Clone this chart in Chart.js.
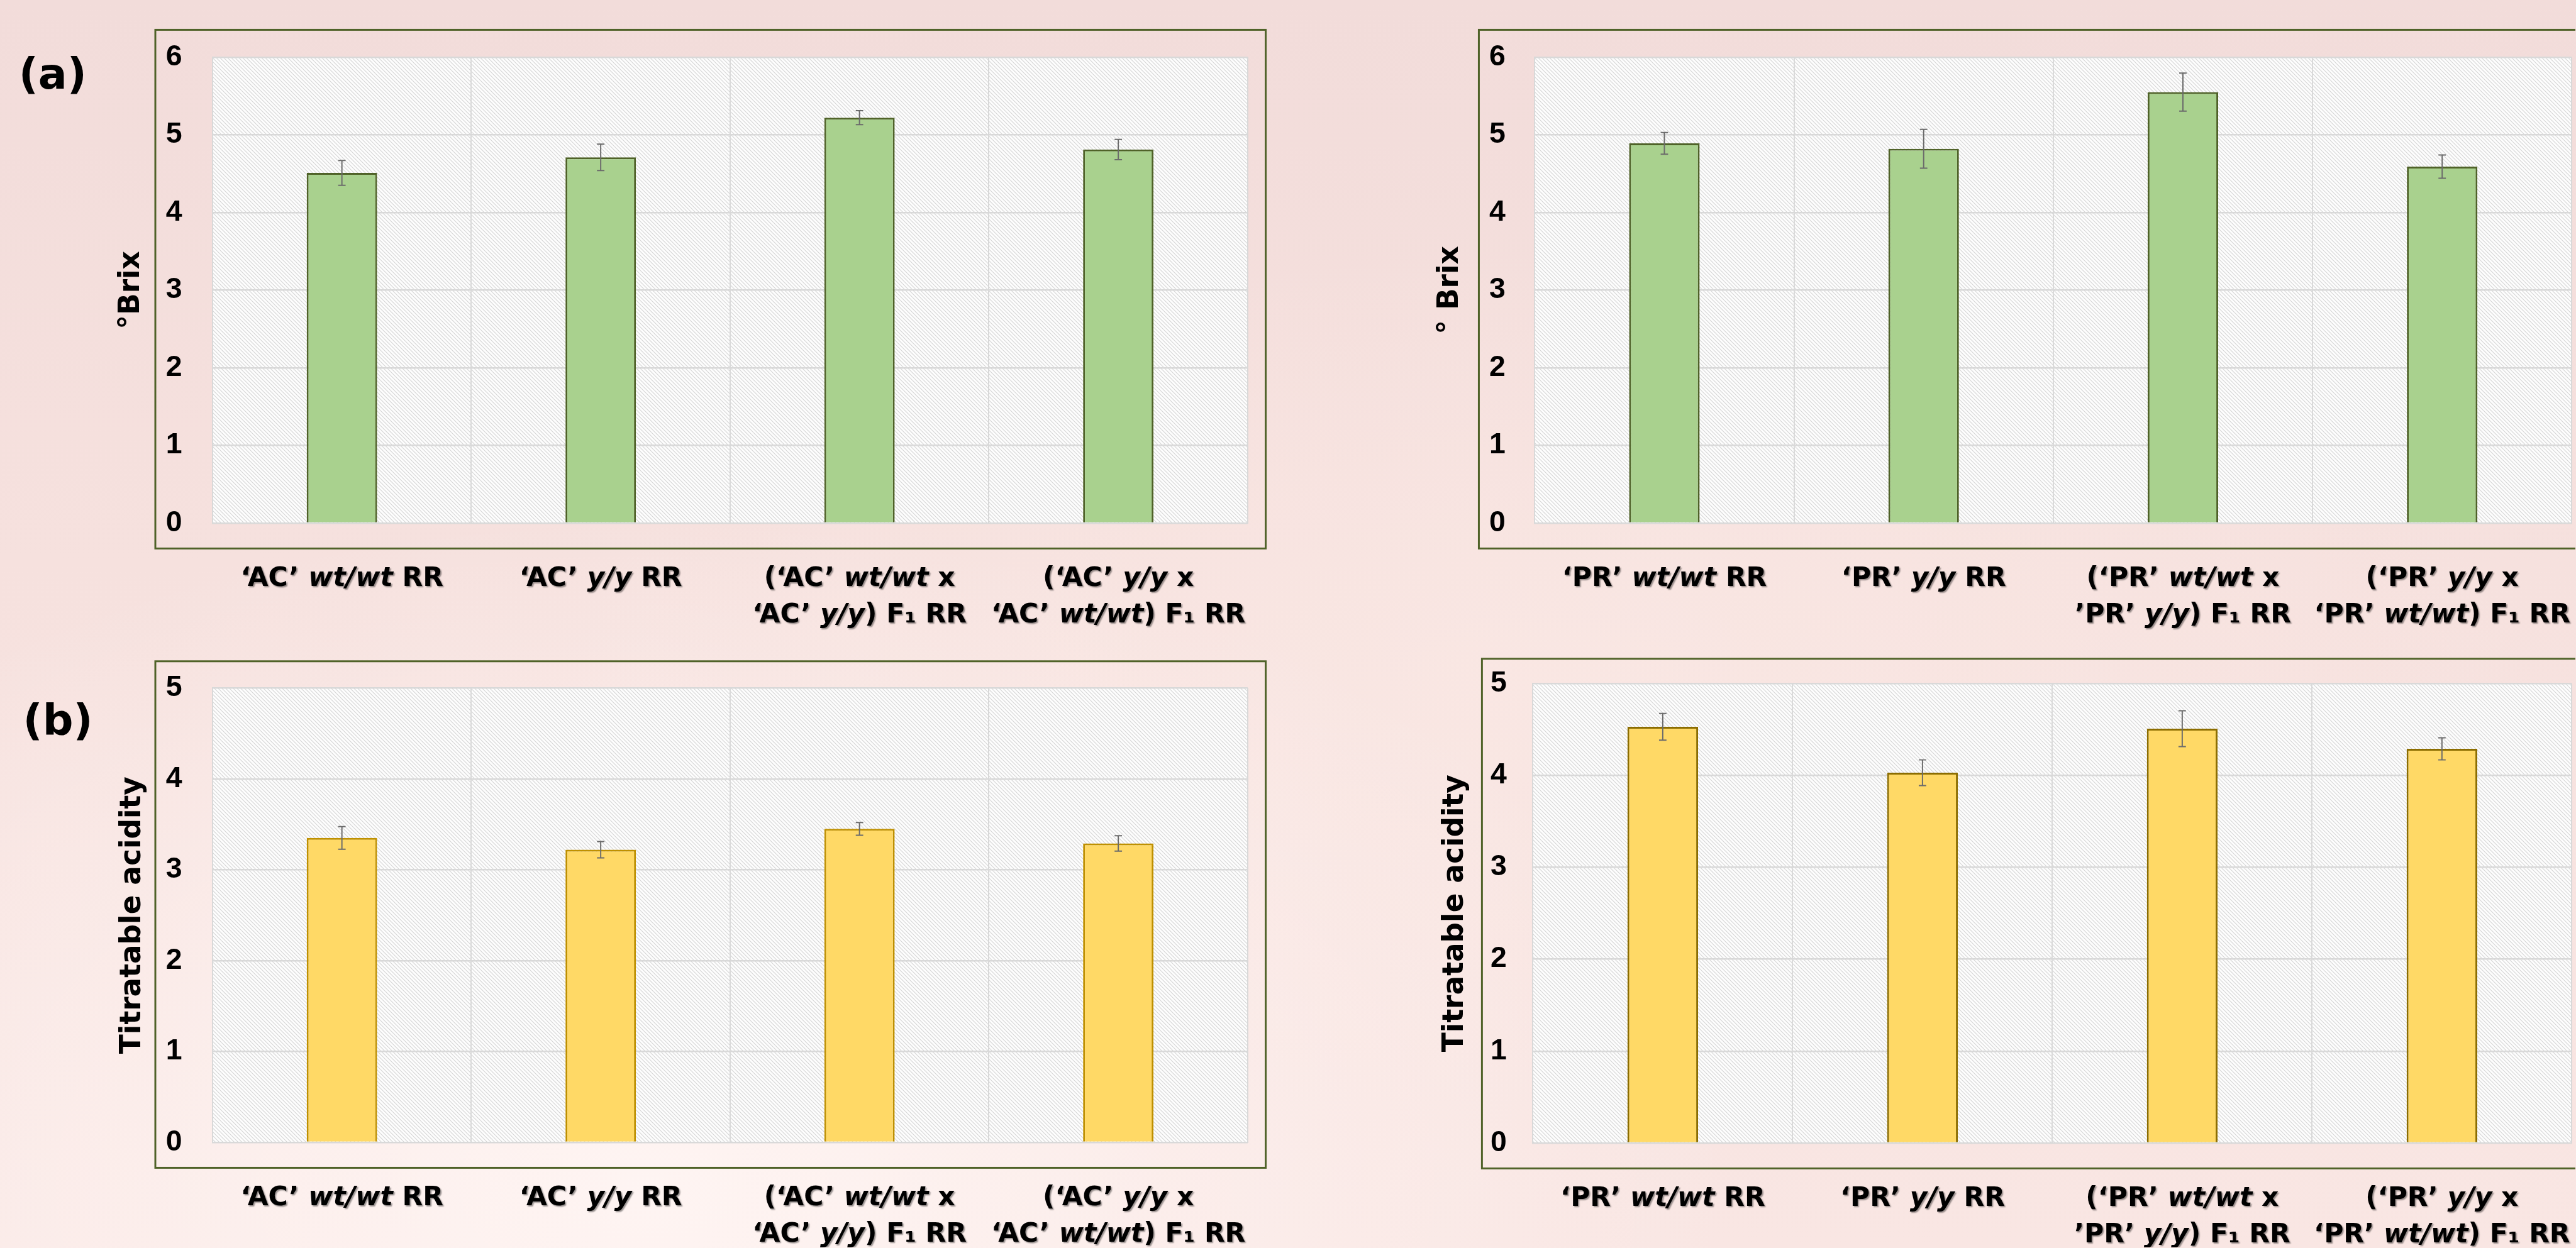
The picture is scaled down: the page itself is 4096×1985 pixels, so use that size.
<!DOCTYPE html>
<html>
<head>
<meta charset="utf-8">
<script src="https://cdn.jsdelivr.net/npm/chart.js@4.4.1/dist/chart.umd.min.js"></script>
<style>
  html, body { margin: 0; padding: 0; }
  body {
    width: 4096px; height: 1985px; overflow: hidden; position: relative;
    background:
      radial-gradient(ellipse at 25% 95%, rgba(255,246,244,0.9), rgba(255,246,244,0) 40%),
      radial-gradient(ellipse at 60% 55%, rgba(250,232,228,0.8), rgba(250,232,228,0) 45%),
      linear-gradient(180deg, #f2dcda 0%, #f6e1de 45%, #f9e6e3 100%);
  }
  canvas { position: absolute; }
  .panel { position: absolute; font: bold 69px "DejaVu Sans"; line-height: 1; color: #000; }
</style>
</head>
<body>
<div class="panel" id="lblA">(a)</div>
<div class="panel" id="lblB">(b)</div>
<canvas id="brixAC"></canvas>
<canvas id="brixPR"></canvas>
<canvas id="acidAC"></canvas>
<canvas id="acidPR"></canvas>
<script>
const S = 0.988; // reference -> window

// categories
const catsAC = ['‘AC’ wt/wt RR', '‘AC’ y/y RR', ['(‘AC’ wt/wt x', '‘AC’ y/y) F₁ RR'], ['(‘AC’ y/y x', '‘AC’ wt/wt) F₁ RR']];
const catsPR = ['‘PR’ wt/wt RR', '‘PR’ y/y RR', ['(‘PR’ wt/wt x', '’PR’ y/y) F₁ RR'], ['(‘PR’ y/y x', '‘PR’ wt/wt) F₁ RR']];

// °Brix (a)
const brixAC = [4.51, 4.71, 5.22, 4.81];
const brixACErr = [0.16, 0.17, 0.09, 0.13];
const brixPR = [4.89, 4.82, 5.55, 4.59];
const brixPRErr = [0.14, 0.25, 0.245, 0.15];

// titratable acidity (b)
const acidAC = [3.35, 3.22, 3.45, 3.29];
const acidACErr = [0.125, 0.09, 0.07, 0.085];
const acidPR = [4.53, 4.03, 4.51, 4.29];
const acidPRErr = [0.145, 0.14, 0.195, 0.12];

// y tick labels
const brixTicks = [0, 1, 2, 3, 4, 5, 6];
const acidTicks = [0, 1, 2, 3, 4, 5];

Chart.defaults.font.family = '"DejaVu Sans"';

function hatchPattern() {
  const t = document.createElement('canvas');
  t.width = t.height = 6;
  const c = t.getContext('2d');
  c.fillStyle = '#fdfdfd';
  c.fillRect(0, 0, 6, 6);
  c.strokeStyle = '#d6d6d6';
  c.lineWidth = 1.2;
  c.beginPath();
  c.moveTo(-1, -1); c.lineTo(7, 7);
  c.moveTo(-1, 5); c.lineTo(1, 7);
  c.moveTo(5, -1); c.lineTo(7, 1);
  c.stroke();
  return c.createPattern(t, 'repeat');
}
const hatch = hatchPattern();

// hatched plot area + green frame round the plot
const frame = {
  id: 'frame',
  beforeDraw(chart, args, o) {
    const { ctx, chartArea: a } = chart;
    ctx.save();
    ctx.fillStyle = hatch;
    ctx.fillRect(a.left, a.top, a.right - a.left, a.bottom - a.top);
    ctx.strokeStyle = '#4F6228';
    ctx.lineWidth = 3 * S;
    ctx.strokeRect(a.left - o.left, a.top - o.top, a.right - a.left + o.left + o.right, a.bottom - a.top + o.top + o.bottom);
    ctx.restore();
  }
};

const errorBars = {
  id: 'errorBars',
  afterDatasetsDraw(chart) {
    const { ctx } = chart;
    const y = chart.scales.y;
    chart.data.datasets.forEach((ds, d) => {
      const meta = chart.getDatasetMeta(d);
      ctx.save();
      ctx.strokeStyle = '#6b6b6b';
      ctx.lineWidth = 2 * S;
      const cap = 6 * S;
      meta.data.forEach((bar, i) => {
        const hi = y.getPixelForValue(ds.data[i] + ds.errors[i]);
        const lo = y.getPixelForValue(ds.data[i] - ds.errors[i]);
        ctx.beginPath();
        ctx.moveTo(bar.x, hi); ctx.lineTo(bar.x, lo);
        ctx.moveTo(bar.x - cap, hi); ctx.lineTo(bar.x + cap, hi);
        ctx.moveTo(bar.x - cap, lo); ctx.lineTo(bar.x + cap, lo);
        ctx.stroke();
      });
      ctx.restore();
    });
  }
};

// category labels with italic genotypes
const richLabels = {
  id: 'richLabels',
  afterDraw(chart, args, o) {
    const { ctx } = chart;
    const x = chart.scales.x;
    const base = chart.chartArea.bottom + o.offset;
    ctx.save();
    ctx.fillStyle = '#000';
    ctx.textBaseline = 'middle';
    ctx.textAlign = 'left';
    ctx.shadowColor = 'rgba(0,0,0,0.4)';
    ctx.shadowOffsetX = 2;
    ctx.shadowOffsetY = 2;
    ctx.shadowBlur = 2;
    chart.data.labels.forEach((lab, i) => {
      const lines = Array.isArray(lab) ? lab : [lab];
      const cx = x.getPixelForValue(i);
      lines.forEach((line, j) => {
        const parts = line.split(/(wt\/wt|y\/y)/).filter(p => p.length);
        const fonts = parts.map(p => (/^(wt\/wt|y\/y)$/.test(p) ? 'italic ' : '') + 'bold ' + o.size + 'px "DejaVu Sans"');
        let w = 0;
        parts.forEach((p, k) => { ctx.font = fonts[k]; w += ctx.measureText(p).width; });
        let px = cx - w / 2;
        const py = base + j * o.lineHeight;
        parts.forEach((p, k) => {
          ctx.font = fonts[k];
          ctx.fillText(p, px, py);
          px += ctx.measureText(p).width;
        });
      });
    });
    ctx.restore();
  }
};

function makeChart(id, spec) {
  const cv = document.getElementById(id);
  const [cx, cy, cw, ch] = spec.canvas;
  const ox = Math.round(cx * S), oy = Math.round(cy * S);
  cv.style.left = ox + 'px';
  cv.style.top = oy + 'px';
  cv.width = Math.round(cw * S);
  cv.height = Math.round(ch * S);
  const W = cv.width, H = cv.height;
  const [pl, pt, pr, pb] = spec.plot;
  const left = pl * S - ox, top = pt * S - oy, right = pr * S - ox, bottom = pb * S - oy;
  const titleSize = 46 * S;
  const lh = titleSize * 1.2;
  const f = spec.frame;

  return new Chart(cv, {
    type: 'bar',
    data: {
      labels: spec.labels,
      datasets: [{
        data: spec.values,
        errors: spec.errors,
        backgroundColor: spec.fill,
        borderColor: spec.edge,
        borderWidth: 3 * S,
        barPercentage: 0.272,
        categoryPercentage: 1
      }]
    },
    options: {
      responsive: false,
      animation: false,
      devicePixelRatio: 1,
      layout: { padding: { left: 0, top: top, right: W - right, bottom: 0 } },
      plugins: {
        legend: { display: false },
        tooltip: { enabled: false },
        frame: { left: f[0] * S, top: f[1] * S, right: f[2] * S, bottom: f[3] * S },
        richLabels: { offset: 90 * S, size: 43 * S, lineHeight: 59 * S }
      },
      scales: {
        x: {
          ticks: { display: false },
          grid: { color: '#d9d9d9', lineWidth: 2 * S, drawTicks: false },
          border: { color: '#d9d9d9', width: 2 * S },
          afterFit: s => { s.height = H - bottom; }
        },
        y: {
          min: spec.ticks[0],
          max: spec.ticks[spec.ticks.length - 1],
          afterBuildTicks: s => { s.ticks = spec.ticks.map(v => ({ value: v })); },
          ticks: {
            color: '#000',
            padding: spec.tickPad * S,
            font: { family: '"Liberation Sans"', weight: 'bold', size: 47 * S }
          },
          grid: { color: '#d9d9d9', lineWidth: 2.5 * S, drawTicks: false },
          border: { color: '#d9d9d9', width: 2 * S },
          title: {
            display: true,
            text: spec.title,
            color: '#000',
            font: { family: '"DejaVu Sans"', weight: 'bold', size: titleSize, lineHeight: 1.2 },
            padding: { top: spec.titleX * S - ox - lh / 2, bottom: 0 }
          },
          afterFit: s => { s.width = left; }
        }
      }
    },
    plugins: [frame, errorBars, richLabels]
  });
}

makeChart('brixAC', {
  canvas: [0, 0, 2200, 1030], plot: [342, 92, 2008, 842], frame: [92, 44, 29, 41],
  labels: catsAC, values: brixAC, errors: brixACErr, ticks: brixTicks,
  fill: '#A9D18E', edge: '#4F6228', title: '°Brix', titleX: 212, tickPad: 49
});
makeChart('brixPR', {
  canvas: [2200, 0, 1944, 1030], plot: [2470, 92, 4139, 842], frame: [90, 44, 60, 41],
  labels: catsPR, values: brixPR, errors: brixPRErr, ticks: brixTicks,
  fill: '#A9D18E', edge: '#4F6228', title: '° Brix', titleX: 2334, tickPad: 47
});
makeChart('acidAC', {
  canvas: [0, 1030, 2200, 978], plot: [342, 1089, 2008, 1839], frame: [92, 43, 29, 41],
  labels: catsAC, values: acidAC, errors: acidACErr, ticks: acidTicks,
  fill: '#FFD966', edge: '#BF9000', title: 'Titratable acidity', titleX: 214, tickPad: 49
});
makeChart('acidPR', {
  canvas: [2200, 1030, 1944, 978], plot: [2467, 1084, 4139, 1840], frame: [82, 40, 60, 41],
  labels: catsPR, values: acidPR, errors: acidPRErr, ticks: acidTicks,
  fill: '#FFD966', edge: '#8C6D00', title: 'Titratable acidity', titleX: 2342, tickPad: 42
});

// panel letters
const lblA = document.getElementById('lblA');
lblA.style.left = 30 * S + 'px'; lblA.style.top = 85 * S + 'px'; lblA.style.fontSize = 69 * S + 'px';
const lblB = document.getElementById('lblB');
lblB.style.left = 37 * S + 'px'; lblB.style.top = 1125 * S + 'px'; lblB.style.fontSize = 69 * S + 'px';
</script>
</body>
</html>
